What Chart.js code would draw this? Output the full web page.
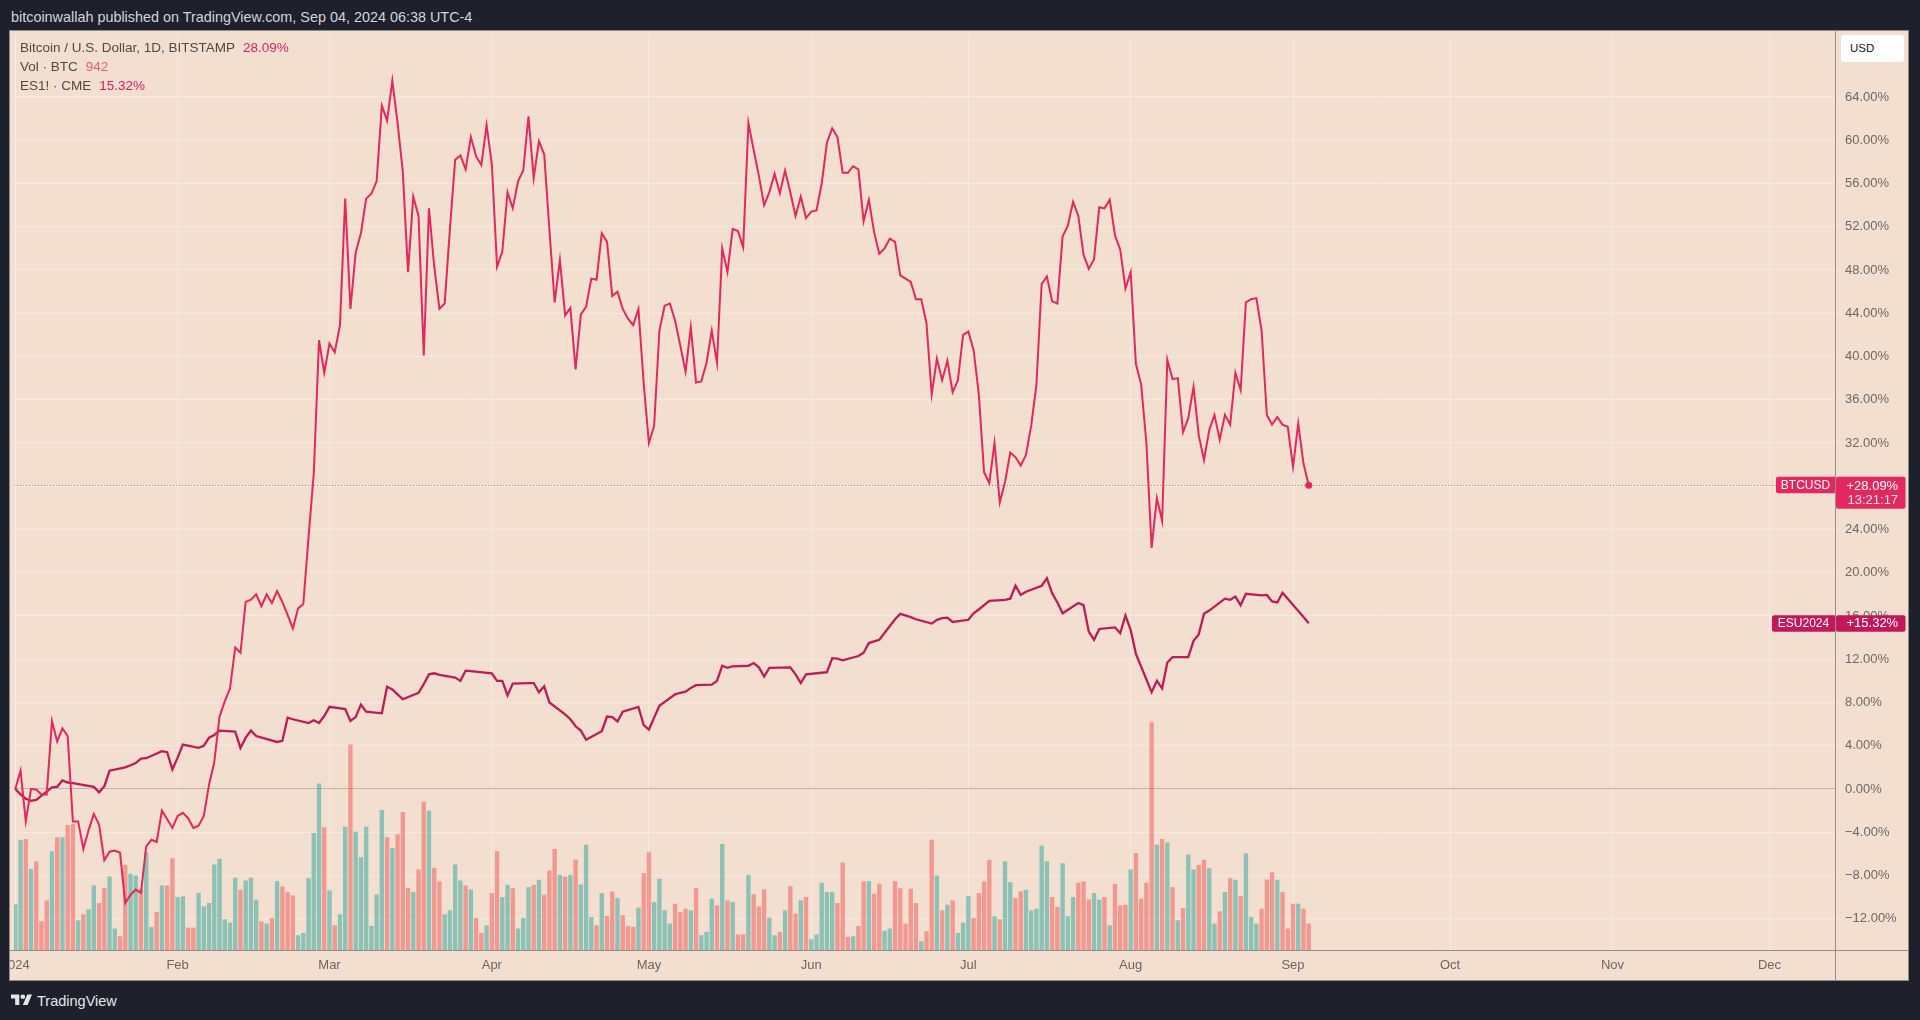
<!DOCTYPE html>
<html><head><meta charset="utf-8">
<script src="https://cdn.jsdelivr.net/npm/chart.js@4.4.1/dist/chart.umd.min.js"></script>
<style>
html,body{margin:0;padding:0;background:#1e212b;}
body{width:1920px;height:1020px;position:relative;overflow:hidden;font-family:'Liberation Sans',Arial,sans-serif;}
#hdr{position:absolute;left:11px;top:8px;font-size:14.4px;color:#d1d4dc;line-height:18px;white-space:nowrap;}
#panel{position:absolute;left:9px;top:30px;width:1898px;height:949px;border:1px solid #8e8a87;background:#f2dfd0;}
#c{position:absolute;left:0;top:0;width:1898px;height:949px;}
.lg{position:absolute;left:10px;font-size:13.5px;color:#4d4a48;white-space:nowrap;line-height:16px;}
.lg span{margin-left:8px;}
#usd{position:absolute;left:1831px;top:4px;width:63px;height:27px;background:#fff;border-radius:3px;font-size:11.5px;color:#131722;line-height:27px;box-sizing:border-box;padding-left:9px;}
#logo{position:absolute;left:11px;top:992px;}
#tvtxt{position:absolute;left:37px;top:992px;font-size:14.5px;line-height:18px;color:#e3e5ea;}
</style></head>
<body>
<div id="hdr">bitcoinwallah published on TradingView.com, Sep 04, 2024 06:38 UTC-4</div>
<div id="panel">
  <canvas id="c" width="1898" height="949"></canvas>
  <div class="lg" style="top:9px">Bitcoin / U.S. Dollar, 1D, BITSTAMP<span style="color:#e0245e">28.09%</span></div>
  <div class="lg" style="top:28px">Vol · BTC<span style="color:#eb5c72">942</span></div>
  <div class="lg" style="top:47px">ES1! · CME<span style="color:#d81b60">15.32%</span></div>
  <div id="usd">USD</div>
</div>
<svg id="logo" width="21.3" height="16.6" viewBox="0 0 36 28"><path fill="#e3e5ea" d="M14 22H7V11H0V4h14v18zM28 22h-8l7.5-18h8L28 22z"/><circle fill="#e3e5ea" cx="20" cy="8" r="4"/></svg>
<div id="tvtxt">TradingView</div>
<script>
// ---------- DATA ----------
// BTCUSD daily % change vs Jan 1 2024 (Jan 1 .. Sep 4)
const btcJan = [0.0,1.7,-3.0,0.0,-0.05,-0.5,-0.5,6.3,4.4,5.6,4.9,-3.0,-3.0,-5.55,-3.8,-2.3,-3.3,-6.6,-5.8,-5.7,-5.9,-10.55,-9.8,-9.3,-9.6,-5.3,-4.7,-4.9,-2.0,-2.8,-3.6];
const btcFeb = [-2.5,-2.2,-2.7,-3.6,-3.4,-2.5,0.4,2.5,6.7,8.1,9.3,13.1,12.6,17.3,17.5,18.0,16.9,18.0,17.2,18.3,17.3,16.1,14.85,16.7,17.1,23.3,29.2,41.5,38.5];
const btcMar = [41.2,40.4,42.9,54.6,44.4,49.6,51.4,54.6,55.05,56.2,63.2,61.8,65.5,61.6,57.1,47.8,54.8,53.0,40.1,53.7,48.3,44.4,44.9,51.8,58.2,58.6,57.3,60.3,58.5,57.7,61.4];
const btcApr = [57.8,48.3,49.7,55.2,53.7,56.2,57.2,62.2,56.5,59.9,58.7,51.7,45.0,48.9,43.8,44.5,38.8,43.9,44.6,47.2,47.1,51.4,50.6,45.6,46.0,44.4,43.5,42.9,44.4,37.5];
const btcMay = [32.0,33.6,42.4,44.7,44.9,43.3,41.0,38.6,42.7,37.6,37.7,39.4,42.4,39.4,50.0,47.8,51.8,51.6,50.1,61.6,59.1,56.7,54.0,55.2,56.9,55.1,57.2,55.2,53.0,54.8,52.8];
const btcJun = [53.4,53.5,56.0,59.8,61.1,60.3,57.0,57.0,57.6,57.3,52.5,54.5,51.5,49.5,50.0,50.9,50.6,47.5,47.2,46.9,45.3,45.3,43.1,36.5,39.8,37.8,39.6,36.7,37.8,42.0];
const btcJul = [42.3,40.6,36.5,29.3,28.3,32.0,26.5,28.4,31.1,30.7,29.9,30.9,33.6,37.4,46.7,47.4,45.1,44.9,51.1,52.1,54.3,53.0,49.4,48.1,49.0,53.8,53.7,54.5,51.2,49.9,46.3];
const btcAug = [47.8,39.3,37.4,32.0,22.3,26.9,24.8,39.7,37.9,38.0,33.0,34.3,37.2,32.7,30.4,33.2,34.6,32.3,34.6,33.7,38.5,36.9,45.0,45.3,45.4,42.4,34.6,33.7,34.4,33.7,33.5];
const btcSep = [29.8,33.8,30.1,28.09];

// Daily volume (BTC) and bar direction (u = up day, d = down day)
const volJan = [1638,3966,4002,2922,3186,1026,1782,3558,4062,4062,4506,4542,1062,1278,1458,2322,1686,2238,2646,762,486,3066,2742,2682,2202,3522,822,1362,2322,2322,3306];
const volFeb = [1902,1926,798,798,2058,1566,1686,3078,3282,1098,978,2598,2166,2502,2598,1806,1026,942,1146,2478,2286,2082,1962,522,606,2586,4218,6006,4422];
const volMar = [2142,882,1278,4446,7422,4266,3342,4446,858,1998,5046,4062,3666,4170,4974,2226,2082,2898,5346,5022,2958,2466,1278,1422,3078,2502,2322,2178,1146,606,882];
const volApr = [2046,3558,1902,2346,2226,762,1146,2262,2346,2526,1986,2862,3642,2706,2646,2706,3258,2358,3798,1182,882,2046,1218,2106,1866,1242,858,822,1518,2766];
const volMay = [3522,1722,2562,1422,942,1662,1362,1482,1422,2238,522,642,1842,1602,3822,1782,1722,546,558,2706,2002,1566,2178,1158,522,642,1422,2298,1302,1782,1902];
const volJun = [378,546,2418,2082,2082,1686,3150,462,486,858,2466,2478,2022,2382,678,762,2478,2226,942,2202,1686,306,666,3978,2682,1422,1626,1782,606,978];
const volJul = [1938,1146,2046,2466,3246,1206,1098,3198,2442,1866,2106,2166,1422,1482,3762,3198,1902,1542,3126,1206,1902,2418,2466,1818,2046,1806,1902,882,2382,1602,1626];
const volAug = [2898,3498,1842,2418,8226,3798,4002,3882,2262,1062,1506,3438,2898,3066,3246,2946,942,1386,2082,2586,2526,1938,3486,1182,942,1482,2538,2802,2526,2082,762];
const volSep = [1662,1662,1482,942];
const dirJan = "u u d u d d d u d u d d u d u u d d u u d d u u d u u d u d d";
const dirFeb = "u u d d u u u u u u u u d u u u d u d u d d d u u u u u d";
const dirMar = "u d u u d u u u u u u d u d d d u d d u d d u u u u d u d d u";
const dirApr = "d d u u d u u u d u d d d u d u d u u u d u d d u d d d u d";
const dirMay = "d u u u u d d d u d u u u d u d u d d u d d d u u d u d d u d";
const dirJun = "u u u u u d d d u d d u d d u u d d d d d u d d u d u d u u";
const dirJul = "u d d d d u d u u d d u u u u u d d u u u d d d u u d u d d d";
const dirAug = "u d d d d u d u d u d u u d d u u d u d u d u u u d d d u d d";
const dirSep = "d u d d";

// ES1! (CME) % change, trading days only
const esDays = [
 '01-01','01-02','01-03','01-04','01-05','01-08','01-09','01-10','01-11','01-12','01-16','01-17','01-18','01-19','01-22','01-23','01-24','01-25','01-26','01-29','01-30','01-31',
 '02-01','02-02','02-05','02-06','02-07','02-08','02-09','02-12','02-13','02-14','02-15','02-16','02-20','02-21','02-22','02-23','02-26','02-27','02-28','02-29',
 '03-01','03-04','03-05','03-06','03-07','03-08','03-11','03-12','03-13','03-14','03-15','03-18','03-19','03-20','03-21','03-22','03-25','03-26','03-27','03-28',
 '04-01','04-02','04-03','04-04','04-05','04-08','04-09','04-10','04-11','04-12','04-15','04-16','04-17','04-18','04-19','04-22','04-23','04-24','04-25','04-26','04-29','04-30',
 '05-01','05-02','05-03','05-06','05-07','05-08','05-09','05-10','05-13','05-14','05-15','05-16','05-17','05-20','05-21','05-22','05-23','05-24','05-28','05-29','05-30','05-31',
 '06-03','06-04','06-05','06-06','06-07','06-10','06-11','06-12','06-13','06-14','06-17','06-18','06-20','06-21','06-24','06-25','06-26','06-27','06-28',
 '07-01','07-02','07-03','07-05','07-08','07-09','07-10','07-11','07-12','07-15','07-16','07-17','07-18','07-19','07-22','07-23','07-24','07-25','07-26','07-29','07-30','07-31',
 '08-01','08-02','08-05','08-06','08-07','08-08','08-09','08-12','08-13','08-14','08-15','08-16','08-19','08-20','08-21','08-22','08-23','08-26','08-27','08-28','08-29','08-30',
 '09-03','09-04'];
const esPct = [
 0,-0.5,-0.9,-1.1,-1.0,0.15,0.2,0.8,0.6,0.55,0.2,-0.3,0.25,1.7,2.0,2.2,2.4,2.8,2.85,3.5,3.4,1.8,
 2.9,4.1,3.8,4.0,4.75,5.0,5.4,5.3,3.8,4.75,5.4,4.9,4.35,4.45,6.6,6.45,6.1,6.35,6.1,6.75,
 7.6,7.4,6.3,6.65,7.8,7.15,7.0,9.45,9.2,8.75,8.3,8.9,9.7,10.6,10.7,10.55,10.3,10.0,10.95,10.9,
 10.7,10.0,10.0,8.65,9.75,9.8,9.8,8.95,9.5,8.0,6.9,6.45,5.8,5.4,4.55,5.35,6.7,6.65,6.25,7.15,7.6,5.9,
 5.5,6.6,7.7,8.75,8.9,9.0,9.35,9.6,9.65,10.0,11.4,11.2,11.35,11.4,11.65,11.25,10.4,11.2,11.25,10.6,9.8,10.6,
 10.75,10.8,12.1,12.05,11.9,12.3,12.6,13.5,13.65,13.8,15.7,16.2,15.9,15.7,15.3,15.65,15.8,15.85,15.45,
 15.65,16.25,16.6,17.4,17.5,17.6,18.8,17.95,18.25,18.8,19.5,18.1,17.25,16.25,17.2,17.0,14.55,13.8,14.8,14.95,14.4,16.05,
 14.7,12.5,8.96,10.0,9.3,11.7,12.2,12.2,13.7,14.3,16.2,16.5,17.6,17.5,17.8,17.0,18.05,17.9,17.95,17.35,17.25,18.15,
 15.9,15.32];

const monthTickDays = [0,31,60,91,121,152,182,213,244,274,305,335];
const monthTickLabels = ['2024','Feb','Mar','Apr','May','Jun','Jul','Aug','Sep','Oct','Nov','Dec'];
const priceTicks = [-12,-8,-4,0,4,8,12,16,20,24,28,32,36,40,44,48,52,56,60,64];
const btcLastLabel = '+28.09%', btcClock = '13:21:17', esLastLabel = '+15.32%';

// ---------- BUILD ----------
const btcPct = [].concat(btcJan,btcFeb,btcMar,btcApr,btcMay,btcJun,btcJul,btcAug,btcSep);
const volBTC = [].concat(volJan,volFeb,volMar,volApr,volMay,volJun,volJul,volAug,volSep);
const volDir = [dirJan,dirFeb,dirMar,dirApr,dirMay,dirJun,dirJul,dirAug,dirSep].join(' ').split(' ');
const dayIndex = s => { const [m,d] = s.split('-').map(Number); return (Date.UTC(2024,m-1,d)-Date.UTC(2024,0,1))/86400000; };
const lastI = btcPct.length-1;

const BTC_COL = '#e2285f', ES_COL = '#bf1b58';
const UP_COL = 'rgba(38,166,154,0.5)', DN_COL = 'rgba(239,83,80,0.5)';
const FONT = "'Liberation Sans', Arial, sans-serif";
const GRID = 'rgba(255,255,255,0.32)';

const overlay = {
  id:'overlay',
  beforeDatasetsDraw(chart){
    const {ctx, chartArea:a, scales:{y}} = chart;
    const yb = Math.round(y.getPixelForValue(btcPct[lastI]))+0.5;
    ctx.save();
    ctx.setLineDash([1,2]); ctx.strokeStyle='rgba(110,100,95,0.7)'; ctx.lineWidth=1;
    ctx.beginPath(); ctx.moveTo(a.left,yb); ctx.lineTo(a.right,yb); ctx.stroke();
    ctx.restore();
  },
  afterDraw(chart){
    const {ctx, chartArea:a, scales:{y}} = chart;
    const W = chart.width, H = chart.height;
    ctx.save();
    ctx.strokeStyle='#958d87'; ctx.lineWidth=1;
    ctx.beginPath();
    ctx.moveTo(a.right+0.5,0); ctx.lineTo(a.right+0.5,H);
    ctx.moveTo(0,a.bottom+0.5); ctx.lineTo(W,a.bottom+0.5);
    ctx.stroke();
    const rr = (x,yy,w,h,r,col)=>{ctx.fillStyle=col;ctx.beginPath();ctx.roundRect(x,yy,w,h,r);ctx.fill();};
    // BTC labels
    const yb = y.getPixelForValue(btcPct[lastI]);
    rr(a.right-59, yb-8.5, 59, 16.5, [2,0,0,2], BTC_COL);
    rr(a.right+1, yb-8.6, 69.5, 32.2, 2, BTC_COL);
    ctx.fillStyle='#fff'; ctx.textBaseline='middle';
    ctx.font = '12px '+FONT; ctx.textAlign='center';
    ctx.fillText('BTCUSD', a.right-29.5, yb);
    ctx.textAlign='left'; ctx.font='13px '+FONT;
    ctx.fillText(btcLastLabel, a.right+11.5, yb+1);
    ctx.fillStyle='rgba(255,255,255,0.88)';
    ctx.fillText(btcClock, a.right+12.5, yb+15);
    // ES labels
    const ye = y.getPixelForValue(esPct[esPct.length-1]);
    rr(a.right-63, ye-8, 63, 16.5, [2,0,0,2], '#c2185b');
    rr(a.right+1, ye-8, 69.5, 16.5, 2, '#c2185b');
    ctx.fillStyle='#fff'; ctx.font='12px '+FONT; ctx.textAlign='center';
    ctx.fillText('ESU2024', a.right-31.5, ye+0.5);
    ctx.textAlign='left'; ctx.font='13px '+FONT;
    ctx.fillText(esLastLabel, a.right+11.5, ye+0.5);
    ctx.restore();
  }
};

new Chart(document.getElementById('c'), {
  type:'line',
  data:{ datasets:[
    { label:'BTCUSD', data: btcPct.map((v,i)=>({x:i,y:v})), borderColor:BTC_COL, backgroundColor:BTC_COL,
      borderWidth:2, tension:0, yAxisID:'y', order:1,
      pointRadius: c => c.dataIndex===lastI ? 3.5 : 0, pointBorderWidth:0, pointBackgroundColor:BTC_COL },
    { label:'ES1!', data: esDays.map((s,i)=>({x:dayIndex(s), y:esPct[i]})), borderColor:ES_COL,
      borderWidth:2.3, tension:0, pointRadius:0, yAxisID:'y', order:2 },
    { type:'bar', label:'Vol', data: volBTC.map((v,i)=>({x:i,y:v})), yAxisID:'yv', order:3,
      backgroundColor: volDir.map(d => d==='u' ? UP_COL : DN_COL), barThickness:3.7, borderWidth:0 }
  ]},
  options:{
    responsive:false, animation:false, devicePixelRatio:1, events:[],
    layout:{padding:0},
    plugins:{legend:{display:false}, tooltip:{enabled:false}},
    scales:{
      x:{ type:'linear', min:-0.2477, max:347.5, offset:false,
        grid:{color:GRID, drawTicks:false, lineWidth:1, offset:false},
        border:{display:false},
        ticks:{padding:8, color:'#6b6762', font:{size:13, family:FONT}, maxRotation:0, autoSkip:false,
          callback: v => { const k = monthTickDays.indexOf(v); return k>=0 ? monthTickLabels[k] : ''; } },
        afterBuildTicks: s => { s.ticks = monthTickDays.map(v=>({value:v})); },
        afterFit: s => { s.height = 30; s.paddingLeft = 0; s.paddingRight = 0; }
      },
      y:{ type:'linear', position:'right', min:-14.89, max:69.733,
        grid:{ color: c => (c.tick && c.tick.value===0) ? '#c2b5aa' : GRID, drawTicks:false, lineWidth:1 },
        border:{display:false},
        ticks:{padding:10, color:'#6d6864', font:{size:13, family:FONT}, autoSkip:false,
          callback: v => (v<0?'\u2212':'') + Math.abs(v).toFixed(2) + '%' },
        afterBuildTicks: s => { s.ticks = priceTicks.map(v=>({value:v})); },
        afterFit: s => { s.width = 73; s.paddingTop = 0; s.paddingBottom = 0; }
      },
      yv:{ type:'linear', display:false, min:0, max:33084 }
    }
  },
  plugins:[overlay]
});
</script>
</body></html>
